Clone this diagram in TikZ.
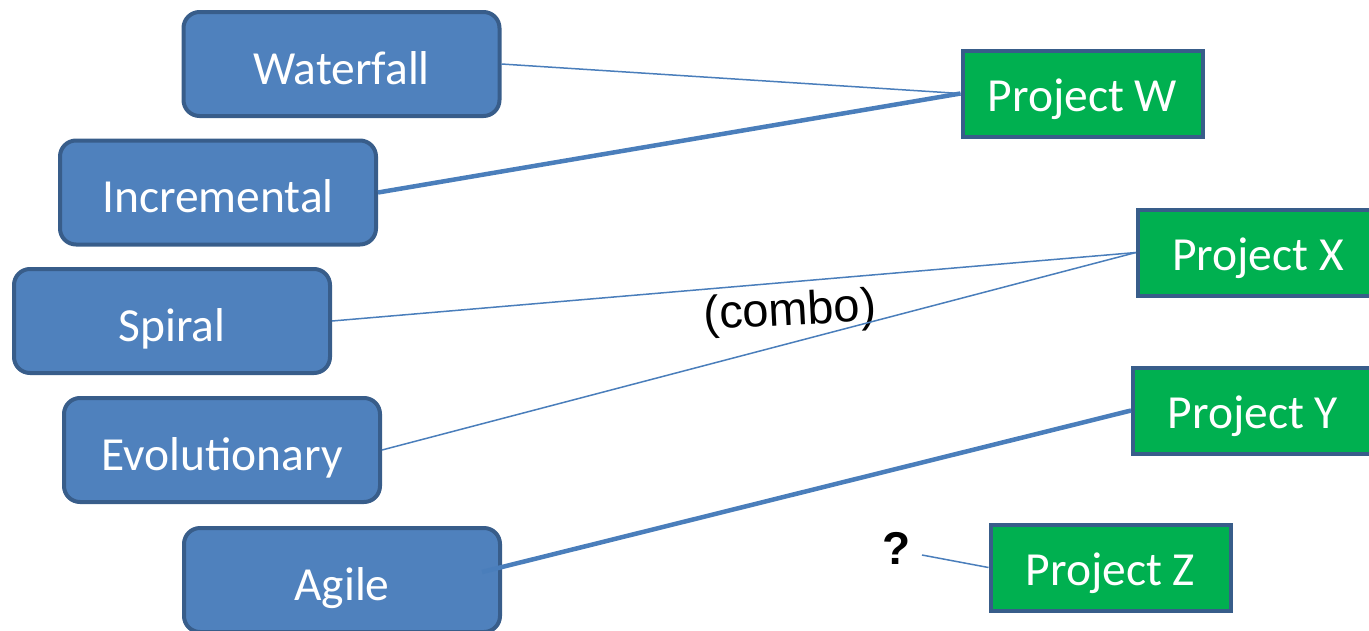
\documentclass[tikz,border=0pt]{standalone}
\usepackage{fontspec}
\setmainfont{Carlito}
\newfontfamily\arialfont{Liberation Sans}
\definecolor{boxblue}{HTML}{4F81BD}
\definecolor{edgeblue}{HTML}{385D8A}
\definecolor{projgreen}{HTML}{00B050}
\definecolor{linkblue}{HTML}{4A7EBB}
\tikzset{
  method/.style={draw=edgeblue, line width=4pt, fill=boxblue, rounded corners=16pt,
    minimum width=316pt, minimum height=104pt, text=white,
    font=\fontsize{47.5}{56}\selectfont, inner sep=0pt,
    text height=40pt, text depth=0pt},
  project/.style={draw=edgeblue, line width=4pt, fill=projgreen,
    minimum width=240pt, minimum height=86pt, text=white,
    font=\fontsize{47.5}{56}\selectfont, inner sep=0pt,
    text height=36pt, text depth=0pt},
  thinlink/.style={draw=linkblue, line width=1.5pt},
  thicklink/.style={draw=linkblue, line width=4.5pt},
  note/.style={font=\arialfont\fontsize{47}{56}\selectfont, inner sep=0pt}
}
\begin{document}
\begin{tikzpicture}[x=1pt,y=1pt]
\useasboundingbox (0,0) rectangle (1369,-630);
\clip (0,0) rectangle (1369,-630);
% development methods
\node[method] (waterfall) at (341.5,-64) {Waterfall};
\node[method] (incremental) at (218,-192.5) {Incremental};
\node[method] (spiral) at (172,-321) {Spiral};
\node[method] (evolutionary) at (222,-450) {Evolutionary};
\node[method] (agile) at (342,-580) {Agile};
% projects
\node[project] (pw) at (1082.5,-93.5) {Project W};
\node[project] (px) at (1258,-252.5) {Project X};
\node[project] (py) at (1253,-410.5) {Project Y};
\node[project] (pz) at (1110.5,-567.5) {Project Z};
% labels
\node[note, rotate=3] (combo) at (790,-313) {(combo)};
\node[note, font=\arialfont\bfseries\fontsize{46}{54}\selectfont] (q) at (897,-548) {?};
\coordinate (agilestart) at (482,-572);
\coordinate (qend) at (922,-555);
% links
\draw[thinlink] (waterfall.east) -- (pw.west);
\draw[thicklink] (incremental.east) -- (pw.west);
\draw[thinlink] (spiral.east) -- (px.west);
\draw[thinlink] (evolutionary.east) -- (px.west);
\draw[thicklink] (agilestart) -- (py.west);
\draw[thinlink] (qend) -- (pz.west);
\end{tikzpicture}
\end{document}
